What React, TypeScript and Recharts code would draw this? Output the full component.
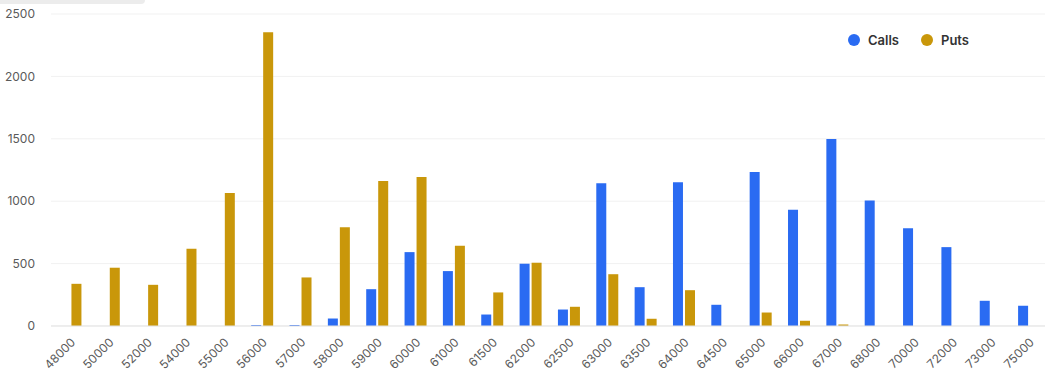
import { BarChart, Bar, XAxis, YAxis, CartesianGrid, Legend } from 'recharts';

const strikes = [
  '48000', '50000', '52000', '54000', '55000', '56000', '57000', '58000', '59000', '60000',
  '61000', '61500', '62000', '62500', '63000', '63500', '64000', '64500', '65000', '66000',
  '67000', '68000', '70000', '72000', '73000', '75000',
];

const calls = [
  0, 0, 0, 0, 0, 8, 8, 60, 295, 592,
  440, 92, 499, 132, 1143, 311, 1151, 170, 1233, 932,
  1498, 1006, 784, 632, 202, 162,
];

const puts = [
  338, 467, 330, 619, 1065, 2354, 389, 792, 1161, 1193,
  643, 269, 507, 154, 415, 58, 287, 0, 108, 42,
  12, 0, 0, 0, 0, 0,
];

const yTicks = [0, 500, 1000, 1500, 2000, 2500];

const BLUE = '#2a6bf2';
const GOLD = '#c9970a';

const data = strikes.map((s, i) => ({ strike: s, calls: calls[i], puts: puts[i] }));

const renderLegend = (props: any) => {
  const { payload } = props;
  return (
    <div style={{ display: 'flex', alignItems: 'center', fontFamily: 'Inter, sans-serif' }}>
      {payload.map((entry: any) => (
        <div
          key={entry.value}
          style={{ display: 'flex', alignItems: 'center', marginRight: 22 }}
        >
          <span
            style={{
              width: 12,
              height: 12,
              borderRadius: '50%',
              background: entry.color,
              display: 'inline-block',
              marginRight: 8,
            }}
          />
          <span style={{ fontSize: 13, fontWeight: 600, color: '#333' }}>{entry.value}</span>
        </div>
      ))}
    </div>
  );
};

export default function App() {
  return (
    <div style={{ position: 'relative', width: 1045, height: 374, overflow: 'hidden', background: '#fff' }}>
      <style>{`body { margin: 0; }`}</style>
      <div
        style={{
          position: 'absolute',
          left: 0,
          top: 0,
          width: 145,
          height: 4,
          background: '#ececec',
          borderRadius: '0 0 4px 0',
        }}
      />
      <BarChart
        width={1050}
        height={374}
        data={data}
        margin={{ top: 14, right: 2, bottom: 0, left: 0 }}
        barCategoryGap="22%"
        barGap={2}
      >
        <CartesianGrid vertical={false} stroke="#f1f1f1" />
        <XAxis
          dataKey="strike"
          interval={0}
          height={48}
          tickLine={false}
          tickMargin={5}
          axisLine={{ stroke: '#e3e3e3' }}
          angle={-45}
          textAnchor="end"
          tick={{ fontSize: 12, fill: '#5a5a5a', fontFamily: 'Inter, sans-serif' }}
        />
        <YAxis
          width={51}
          domain={[0, 2500]}
          ticks={yTicks}
          tickLine={false}
          axisLine={false}
          tickMargin={10}
          tick={{ fontSize: 12, fill: '#5a5a5a', fontFamily: 'Inter, sans-serif' }}
        />
        <Legend
          layout="vertical"
          align="center"
          verticalAlign="middle"
          content={renderLegend}
          wrapperStyle={{ left: 848, top: 32, width: 180, height: 18 }}
        />
        <Bar dataKey="calls" name="Calls" fill={BLUE} isAnimationActive={false} />
        <Bar dataKey="puts" name="Puts" fill={GOLD} isAnimationActive={false} />
      </BarChart>
    </div>
  );
}
